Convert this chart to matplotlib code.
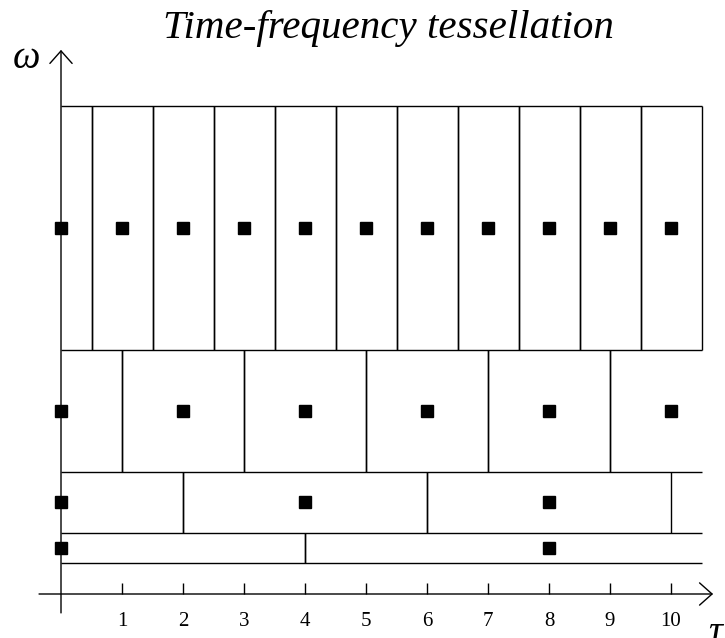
import matplotlib.pyplot as plt

plt.rcParams['font.family'] = ['Liberation Serif', 'DejaVu Serif']

# frequency bands (omega) and the time step of each band
band_low = [1, 2, 4, 8]
band_high = [2, 4, 8, 16]
band_width = [8, 4, 2, 1]
band_centers = [
    [0, 8],
    [0, 4, 8],
    [0, 2, 4, 6, 8, 10],
    [0, 1, 2, 3, 4, 5, 6, 7, 8, 9, 10],
]
tau_max = 10.5
tick_values = [1, 2, 3, 4, 5, 6, 7, 8, 9, 10]
tick_labels = ['1', '2', '3', '4', '5', '6', '7', '8', '9', '10']

fig = plt.figure(figsize=(7.25, 6.38), dpi=100)
ax = fig.add_axes([0, 0, 1, 1])
ax.set_xlim(-1.0, 10.885)
ax.set_ylim(-1.4426, 19.475)
ax.axis('off')

lc = 'black'
lw = 1.0

# horizontal band edges
for y in sorted(set(band_low + band_high)):
    ax.plot([0, tau_max], [y, y], color=lc, lw=lw, solid_capstyle='butt')

# cell edges and centre markers for every band
for lo, hi, w, cs in zip(band_low, band_high, band_width, band_centers):
    for c in cs:
        for edge in (c - w / 2, c + w / 2):
            if 0 < edge <= tau_max:
                ax.plot([edge, edge], [lo, hi], color=lc, lw=lw,
                        solid_capstyle='butt')
        ax.plot(c, (lo + hi) / 2, marker='s', color='black', markersize=8,
                linestyle='none', zorder=5, clip_on=False)

# axes with open arrow heads
arrow = dict(arrowstyle='->,head_length=0.45,head_width=0.4',
             lw=lw, color=lc, mutation_scale=20, shrinkA=0, shrinkB=0)
ax.annotate('', xy=(10.69, 0), xytext=(-0.36, 0), arrowprops=arrow)
ax.annotate('', xy=(0, 17.84), xytext=(0, -0.62), arrowprops=arrow)

# ticks on the time axis
for t, lab in zip(tick_values, tick_labels):
    ax.plot([t, t], [0, 0.36], color=lc, lw=lw, solid_capstyle='butt')
    ax.text(t, -0.9, lab, ha='center', va='center', fontsize=15)

ax.text(-0.56, 17.55, 'ω', ha='center', va='center', fontsize=28,
        style='italic')
ax.text(10.72, -1.3, 'τ', ha='center', va='center', fontsize=28,
        style='italic')

fig.text(388 / 725, 1 - 38 / 638, 'Time-frequency tessellation',
         ha='center', va='baseline', fontsize=29.5, style='italic')

fig.savefig('out.png', dpi=100)
